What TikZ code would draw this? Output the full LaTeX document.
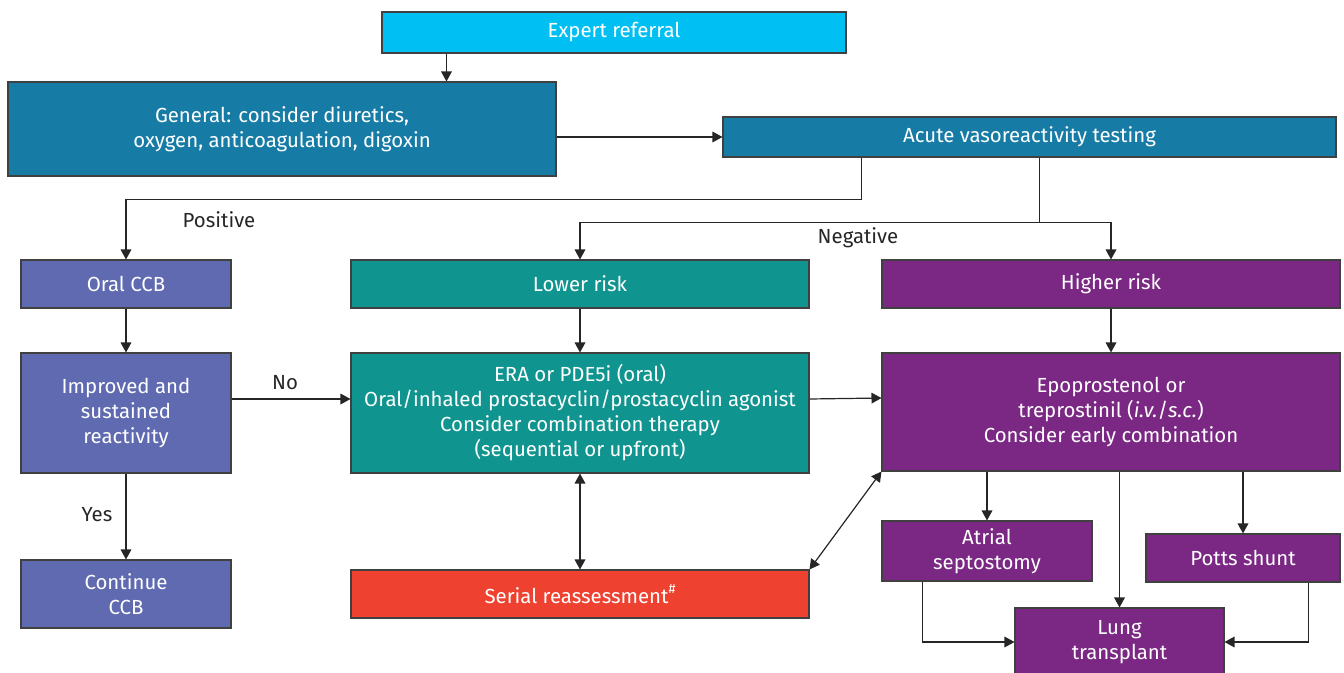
\documentclass[tikz,border=0pt]{standalone}
\usepackage{fontspec}
\setmainfont{Fira Sans}
\usetikzlibrary{arrows.meta,positioning,calc}
\definecolor{cyb}{HTML}{00C0F3}
\definecolor{blb}{HTML}{177CA5}
\definecolor{inb}{HTML}{5F6AB1}
\definecolor{tlb}{HTML}{10948F}
\definecolor{pub}{HTML}{7B2884}
\definecolor{rdb}{HTML}{EF4130}
\begin{document}
\begin{tikzpicture}[x=0.75pt,y=-0.75pt,
  every node/.style={inner sep=0pt,align=center,
    font=\fontsize{15.3}{18.75}\selectfont},%
  bx/.style={draw=black!75,line width=0.8pt,text=white},%
  cy/.style={bx,fill=cyb},%
  bl/.style={bx,fill=blb},%
  ib/.style={bx,fill=inb},%
  tl/.style={bx,fill=tlb},%
  pu/.style={bx,fill=pub},%
  rd/.style={bx,fill=rdb},%
  lb/.style={text=black!85},%
  e/.style={-{Triangle[length=7.5pt,width=8pt]},line width=0.9pt,draw=black!85},%
  ee/.style={{Triangle[length=7.5pt,width=8pt]}-{Triangle[length=7.5pt,width=8pt]},line width=0.9pt,draw=black!85}
  ]
  \useasboundingbox (0,0) rectangle (1344,673);

  \node (expert) [cy,minimum width=348pt,minimum height=30.75pt] at (614,32.5) {Expert referral};
  \node (general) [bl,minimum width=411pt,minimum height=70.5pt] at (282,129)
    {General: consider diuretics,\\oxygen, anticoagulation, digoxin};
  \node (acute) [bl,minimum width=459.75pt,minimum height=30pt] at (1029.5,137)
    {Acute vasoreactivity testing};

  \node (oral) [ib,minimum width=157.5pt,minimum height=36pt] at (126,284) {Oral CCB};
  \node (lower) [tl,minimum width=343.5pt,minimum height=36pt] at (580,284) {Lower risk};
  \node (higher) [pu,minimum width=343.5pt,minimum height=36pt] at (1111,284) {Higher risk};

  \node (improved) [ib,minimum width=157.5pt,minimum height=90pt] at (126,413)
    {Improved and\\sustained\\reactivity};
  \node (era) [tl,minimum width=343.5pt,minimum height=90pt] at (580,413)
    {ERA or PDE5i (oral)\\Oral/inhaled prostacyclin/prostacyclin agonist\\
     Consider combination therapy\\(sequential or upfront)};
  \node (epo) [pu,minimum width=343.5pt,minimum height=88.5pt] at (1111,412)
    {Epoprostenol or\\treprostinil (\textit{i.v.}/\textit{s.c.})\\Consider early combination};

  \node (cont) [ib,minimum width=157.5pt,minimum height=51pt] at (126,594) {Continue\\CCB};
  \node (serial) [rd,minimum width=343.5pt,minimum height=36pt] at (580,594)
    {Serial reassessment\raisebox{0.9ex}{\fontsize{10}{10}\selectfont\#}};
  \node (atrial) [pu,minimum width=157.5pt,minimum height=45pt] at (987,551) {Atrial\\septostomy};
  \node (potts) [pu,minimum width=145.5pt,minimum height=36pt] at (1243,558) {Potts shunt};
  \node (lung) [pu,minimum width=156.75pt,minimum height=51pt] at (1119.5,642) {Lung\\transplant};

  \node (pos) [lb] at (219,220) {Positive};
  \node (neg) [lb] at (858,238) {Negative};
  \node (no) [lb] at (285,383) {No};
  \node (yes) [lb] at (97,515) {Yes};

  \coordinate (ex) at ([xshift=48.75pt]expert.south west);
  \coordinate (ap) at ([xshift=104.25pt]acute.south west);
  \coordinate (an) at ([xshift=237.75pt]acute.south west);
  \coordinate (split) at ($(an)+(0,65)$);
  \coordinate (at) at ([xshift=30.75pt]atrial.south west);
  \coordinate (pt) at ([xshift=-24pt]potts.south east);

  \draw [e] (ex) -- (ex |- general.north);
  \draw [e] (general.east |- acute.west) -- (acute.west);
  \draw [e] (ap) -- ++(0,42) -| (oral.north);
  \draw [line width=0.9pt,draw=black!85] (an) -- (split);
  \draw [e] (split) -| (lower.north);
  \draw [e] (split) -| (higher.north);
  \draw [e] (oral) -- (improved);
  \draw [e] ([yshift=10.5pt]improved.east) -- ([yshift=10.5pt]era.west);
  \draw [e] (improved) -- (cont);
  \draw [e] (lower) -- (era);
  \draw [e] (higher) -- (epo);
  \draw [e] ([yshift=10.5pt]era.east) -- ([yshift=10.5pt]epo.west);
  \draw [ee] (era) -- (serial);
  \draw [ee] (serial.north east) -- (epo.south west);
  \draw [e] (atrial.north |- epo.south) -- (atrial.north);
  \draw [e] (lung.north |- epo.south) -- (lung.north);
  \draw [e] (potts.north |- epo.south) -- (potts.north);
  \draw [e] (at) |- (lung.west);
  \draw [e] (pt) |- (lung.east);
\end{tikzpicture}
\end{document}
